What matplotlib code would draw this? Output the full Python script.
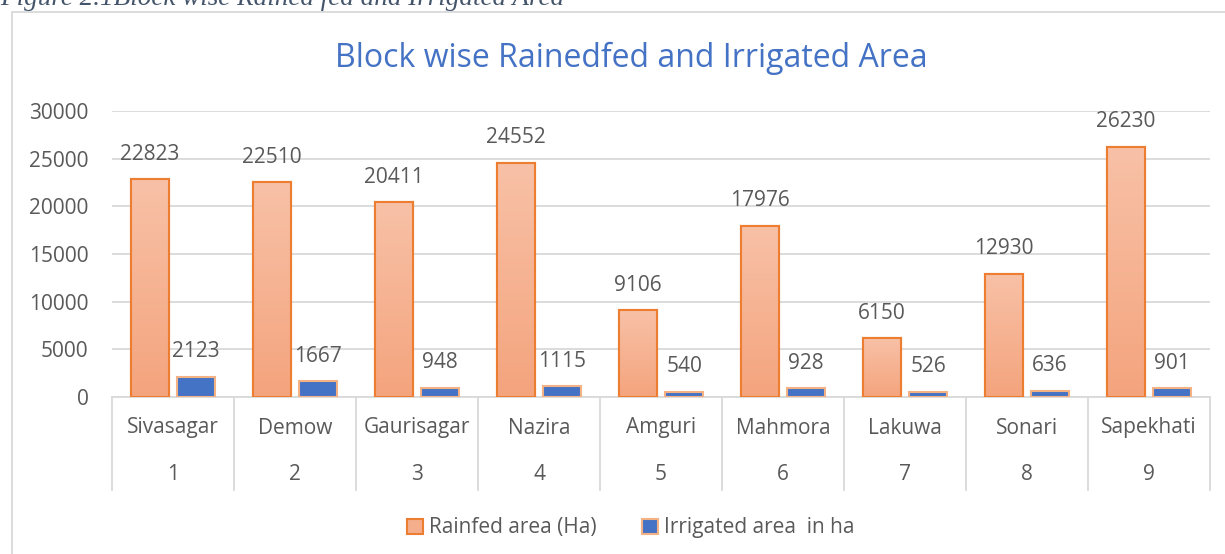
import numpy as np
import matplotlib.pyplot as plt
from matplotlib.patches import Rectangle
from matplotlib.lines import Line2D
from matplotlib.colors import LinearSegmentedColormap
import matplotlib.transforms as mtransforms

blocks = ["Sivasagar", "Demow", "Gaurisagar", "Nazira", "Amguri",
          "Mahmora", "Lakuwa", "Sonari", "Sapekhati"]
block_no = ["1", "2", "3", "4", "5", "6", "7", "8", "9"]
rainfed = [22823, 22510, 20411, 24552, 9106, 17976, 6150, 12930, 26230]
irrigated = [2123, 1667, 948, 1115, 540, 928, 526, 636, 901]
yticks = [0, 5000, 10000, 15000, 20000, 25000, 30000]

plt.rcParams['font.family'] = ['Open Sans', 'DejaVu Sans']
gray = '#595959'
grid = '#D9D9D9'

fig = plt.figure(figsize=(12.25, 5.54), dpi=100)
W, H = 1225, 554

# caption above the chart (cut off at the top like the reference)
fig.text(0 / W, 1 - 5 / H, "Figure 2.1Block wise Rained fed and Irrigated Area",
         family='Liberation Serif', style='italic', fontsize=19.5,
         color='#44546A', va='baseline', ha='left')

# chart frame
fig.patches.append(Rectangle((12 / W, -0.05), 1.2, 1 - 12 / H + 0.05,
                             transform=fig.transFigure, fill=False,
                             edgecolor=grid, linewidth=1.3))

ax = fig.add_axes([112 / W, (H - 397) / H, (1210 - 112) / W, 286 / H])
x = np.arange(len(blocks))
bw = 0.31
off = 0.19

bars_r = ax.bar(x - off, rainfed, bw, color='#F5AE8C', edgecolor='#ED7D31',
                linewidth=1.5, zorder=3, label='Rainfed area (Ha)')
bars_i = ax.bar(x + off, irrigated, bw, color='#4472C4', edgecolor='#F4B183',
                linewidth=1.5, zorder=3, label='Irrigated area  in ha')

# vertical gradient inside rainfed bars (lighter at the top)
grad = np.linspace(1, 0, 256).reshape(-1, 1)
cmap = LinearSegmentedColormap.from_list('g', ['#F8C1A7', '#F4A47D'])
for b in bars_r:
    im = ax.imshow(grad, cmap=cmap, aspect='auto', zorder=3.5, origin='lower',
                   extent=[b.get_x(), b.get_x() + b.get_width(), 0, b.get_height()])
    im.set_clip_path(b)
    ax.add_patch(Rectangle((b.get_x(), 0), b.get_width(), b.get_height(), fill=False,
                           edgecolor='#ED7D31', linewidth=1.5, zorder=4))

ax.set_xlim(-0.5, len(blocks) - 0.5)
ax.set_ylim(0, 30000)
ax.set_yticks(yticks)
ax.set_yticklabels([str(v) for v in yticks])
ax.tick_params(axis='y', length=0, labelsize=15, labelcolor=gray, pad=17)
ax.tick_params(axis='x', length=0, labelbottom=False)
ax.grid(axis='y', color=grid, linewidth=1.3, zorder=0)
for s in ['top', 'right', 'left']:
    ax.spines[s].set_visible(False)
ax.spines['bottom'].set_color(grid)
ax.spines['bottom'].set_linewidth(1.3)

for xi, v in zip(x - off, rainfed):
    ax.annotate(str(v), (xi, v), xytext=(0, 18), textcoords='offset points',
                ha='center', va='center', fontsize=15, color=gray, zorder=5)
for xi, v in zip(x + off, irrigated):
    ax.annotate(str(v), (xi, v), xytext=(0, 18), textcoords='offset points',
                ha='center', va='center', fontsize=15, color=gray, zorder=5)

# two-level category axis
tr = mtransforms.blended_transform_factory(ax.transData, ax.transAxes)
for i in range(len(blocks)):
    ax.text(i, -31 / 286, blocks[i], transform=tr, ha='center', va='center',
            fontsize=15, color=gray)
    ax.text(i, -78 / 286, block_no[i], transform=tr, ha='center', va='center',
            fontsize=15, color=gray)
for i in range(len(blocks) + 1):
    ax.add_line(Line2D([i - 0.5, i - 0.5], [0, -93 / 286], transform=tr,
                       color=grid, linewidth=1.3, clip_on=False))

fig.text(0.515, 1 - 58 / H, "Block wise Rainedfed and Irrigated Area", fontsize=23,
         color='#4472C4', ha='center', va='center')

fig.legend(handles=[bars_r, bars_i], loc='center', bbox_to_anchor=(0.515, 1 - 528 / H),
           ncol=2, frameon=False, fontsize=15, labelcolor=gray,
           handlelength=0.75, handleheight=0.75, handletextpad=0.3, columnspacing=2.2)

fig.savefig('out.png', dpi=100)
